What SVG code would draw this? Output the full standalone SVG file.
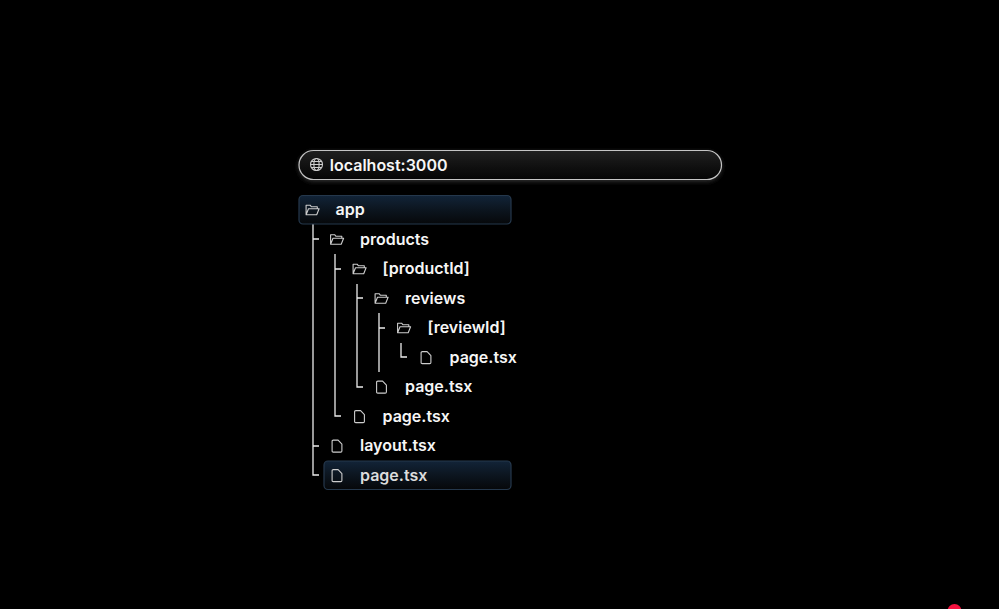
<svg xmlns="http://www.w3.org/2000/svg" width="999" height="609" viewBox="0 0 999 609">
<style>
text{font-family:Inter,"Liberation Sans",sans-serif;font-size:16px;font-weight:600;fill:#f6f6f6}
.c{fill:none;stroke:#ececec;stroke-width:1.3}
.i{fill:none;stroke:#cdcdcd;stroke-width:1.1;stroke-linejoin:round;stroke-linecap:round}
.sel{fill:url(#sel);stroke:#25384c;stroke-width:1.2}
</style>
<defs>
<linearGradient id="bar" x1="0" y1="0" x2="0" y2="1"><stop offset="0" stop-color="#202020"/><stop offset="0.6" stop-color="#0f0f0f"/><stop offset="1" stop-color="#050505"/></linearGradient>
<linearGradient id="sel" x1="0" y1="0" x2="0" y2="1"><stop offset="0" stop-color="#122438"/><stop offset="0.5" stop-color="#0c151f"/><stop offset="1" stop-color="#06080a"/></linearGradient>
<filter id="glow" x="-5%" y="-40%" width="110%" height="180%"><feGaussianBlur stdDeviation="2.500"/></filter>
<g id="folder"><path class="i" d="M0.6 10.800V1.200H4.600L6 2.800H11.800V4.800M0.600 10.800H11.200L13.600 4.800H3L0.600 10.800Z"/></g>
<g id="file"><path class="i" d="M0.600 1.800Q0.600 0.600 1.800 0.600H6.600L10.400 4.600V11.400Q10.400 12.600 9.200 12.600H1.800Q0.600 12.600 0.600 11.400Z"/></g>
</defs>
<rect width="999" height="609" fill="#000"/>
<g id="connectors">
<path class="c" d="M313 224V475H319M313 239H319M313 446H319"/>
<path class="c" d="M335 254V416H341M335 269H341"/>
<path class="c" d="M357 284V387H363M357 298H363"/>
<path class="c" d="M379 313V372M379 328H385"/>
<path class="c" d="M401 343V357H407"/>
</g>
<g id="url-bar">
<rect x="299" y="152" width="422.500" height="29" rx="14.500" fill="#3a3a3a" filter="url(#glow)"/>
<rect x="299" y="150.500" width="422.500" height="29" rx="14.500" fill="url(#bar)" stroke="#c4c4c4" stroke-width="1.200"/>
<circle class="i" cx="316.500" cy="164.500" r="6"/>
<ellipse class="i" cx="316.500" cy="164.500" rx="2.600" ry="6"/>
<path class="i" d="M310.500 164.500H322.500M311.400 161.500H321.600M311.400 167.500H321.600"/>
<text x="329.800" y="170.500">localhost:3000</text>
</g>
<g id="node-app"><rect class="sel" x="299" y="195.500" width="212" height="28.500" rx="4"/><use href="#folder" x="305.500" y="204"/><text x="335.500" y="215.400">app</text></g>
<g id="node-products"><use href="#folder" x="330" y="233.500"/><text x="360" y="244.900">products</text></g>
<g id="node-productId"><use href="#folder" x="352.500" y="263"/><text x="382.500" y="274.400">[productId]</text></g>
<g id="node-reviews"><use href="#folder" x="374.500" y="292.500"/><text x="405" y="303.900">reviews</text></g>
<g id="node-reviewId"><use href="#folder" x="397" y="322"/><text x="427.500" y="333.400">[reviewId]</text></g>
<g id="node-page-review"><use href="#file" x="420.500" y="351"/><text x="449.500" y="362.900">page.tsx</text></g>
<g id="node-page-reviews"><use href="#file" x="376" y="380.500"/><text x="405" y="392.400">page.tsx</text></g>
<g id="node-page-product"><use href="#file" x="354" y="410"/><text x="382.500" y="421.900">page.tsx</text></g>
<g id="node-layout"><use href="#file" x="331.500" y="439.500"/><text x="360" y="451.400">layout.tsx</text></g>
<g id="node-page-root"><rect class="sel" x="324" y="461" width="187" height="28.500" rx="4"/><use href="#file" x="331.500" y="469"/><text x="360" y="480.900" style="fill:#dcdcdc">page.tsx</text></g>
<circle cx="954.500" cy="611" r="7" fill="#f4123f"/>
</svg>
